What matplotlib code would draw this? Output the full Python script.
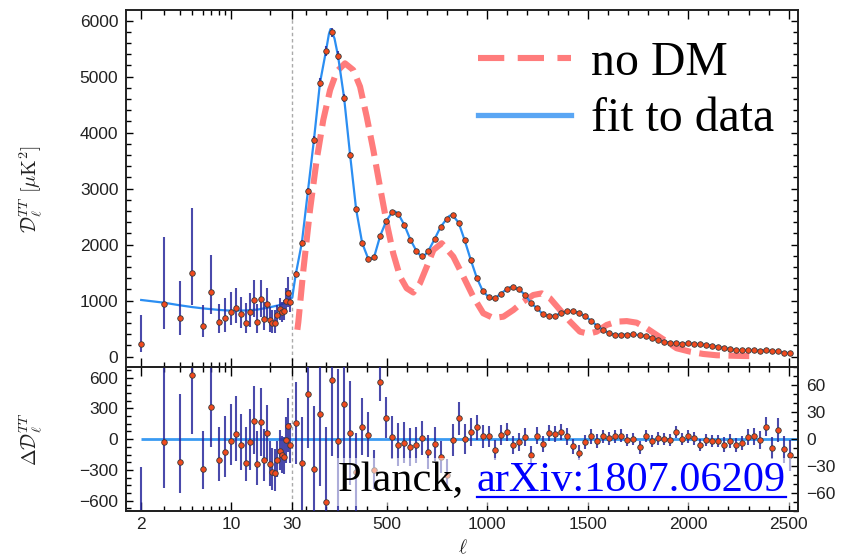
import numpy as np
import matplotlib
matplotlib.use("Agg")
import matplotlib.pyplot as plt
from matplotlib.ticker import FixedLocator, MultipleLocator, NullFormatter
from matplotlib.lines import Line2D
from matplotlib.patches import Rectangle

plt.rcParams['mathtext.fontset'] = 'cm'
plt.rcParams['font.family'] = ['Liberation Sans', 'DejaVu Sans']

# ------------------------------------------------------------------ data
ell_low = [2, 3, 4, 5, 6, 7, 8, 9, 10, 11, 12, 13, 14, 15, 16, 17, 18, 19,
           20, 21, 22, 23, 24, 25, 26, 27, 28, 29]
D_low = [227, 935, 691, 1500, 554, 1150, 614, 696, 798, 864, 762, 596, 804,
         1018, 620, 1030, 673, 946, 661, 596, 596, 739, 846, 798, 821, 1000,
         1143, 977]
D_low_err_lo = [138, 446, 304, 577, 197, 393, 196, 250, 232, 268, 244, 167,
                268, 315, 202, 327, 196, 267, 215, 178, 178, 173, 191, 173,
                166, 225, 250, 173]
D_low_err_hi = [518, 1208, 661, 1150, 369, 666, 321, 347, 363, 368, 309, 357,
                328, 346, 315, 334, 309, 275, 232, 238, 238, 184, 197, 184,
                191, 221, 275, 214]
res_low = [-785, -27, -223, 624, -291, 318, -207, -122, -18, 51, -61, -236,
           -31, 174, -240, 164, -207, 57, -246, -321, -330, -200, -112, -158,
           -171, -8, 125, -61]

ell_bin = [47.5, 77.5, 107.5, 137.5, 167.5, 197.5, 227.5, 257.5, 287.5, 317.5,
           347.5, 377.5, 407.5, 437.5, 467.5, 497.5, 527.5, 557.5, 587.5,
           617.5, 647.5, 677.5, 707.5, 737.5, 767.5, 797.5, 827.5, 857.5,
           887.5, 917.5, 947.5, 977.5, 1007.5, 1037.5, 1067.5, 1097.5, 1127.5,
           1157.5, 1187.5, 1217.5, 1247.5, 1277.5, 1307.5, 1337.5, 1367.5,
           1397.5, 1427.5, 1457.5, 1487.5, 1517.5, 1547.5, 1577.5, 1607.5,
           1637.5, 1667.5, 1697.5, 1727.5, 1757.5, 1787.5, 1817.5, 1847.5,
           1877.5, 1907.5, 1937.5, 1967.5, 1997.5, 2027.5, 2057.5, 2087.5,
           2117.5, 2147.5, 2177.5, 2207.5, 2237.5, 2267.5, 2297.5, 2327.5,
           2357.5, 2387.5, 2417.5, 2447.5, 2477.5, 2507.5]
D_bin = [1477, 2036, 2953, 3869, 4887, 5459, 5792, 5369, 4625, 3601, 2631,
         2030, 1750, 1786, 2161, 2423, 2583, 2548, 2351, 2089, 1887, 1804,
         1893, 2096, 2315, 2458, 2524, 2393, 2078, 1732, 1411, 1173, 1060,
         1042, 1125, 1208, 1238, 1202, 1107, 959, 863, 756, 726, 732, 780,
         810, 810, 780, 720, 640, 545, 476, 417, 393, 393, 393, 399, 381, 369,
         340, 304, 268, 250, 244, 232, 238, 232, 220, 214, 196, 179, 155, 137,
         119, 113, 113, 113, 107, 119, 95, 95, 71, 60]
err_bin = [46, 52, 60, 70, 80, 84, 85, 80, 72, 58, 44, 32, 25, 22, 21, 23, 24,
           24, 23, 21, 20, 19, 19, 19, 18, 18, 18, 18, 17, 16, 14, 13, 12, 11,
           11, 10, 10, 10, 10, 10, 9, 9, 9, 9, 9, 9, 8, 8, 8, 8, 8, 7, 7, 7, 7,
           7, 7, 7, 7, 7, 7, 7, 7, 7, 7, 7, 7, 7, 7, 7, 7, 8, 8, 8, 8, 9, 9, 10,
           11, 12, 13, 15, 17]
res_bin = [18, -27, 50, -33, 28, -70, 66, -2, 39, 7, -37, 14, 5, -34, 64, 24,
           2, -6, -4, -9, -6, 1, -14, -5, -20, -40, -1, 23, 0, 8, 13, 3, 3,
           -12, 5, 8, -7, -3, 2.5, -18, 4, -5, 7, 6, 8, 3, -8, -15, -3, 3, -2,
           3, 1, 3, 4, -1, 0, -9, 3.5, -2, 1, 0, -1, 8, 0, 3, 1, -6.5, -1, -2,
           -2, -6, -2, -6.5, -4, 2, 3, -1, 14, -10, 10, -11, -18]

# best-fit LCDM curve
ell_fit_low = [2, 3, 4, 5, 6, 8, 10, 13, 16, 20, 24, 27, 29, 30, 38]
D_fit_low = [1012, 964, 917, 885, 863, 835, 821, 825, 840, 881, 923, 975,
             1030, 1060, 1260]
ell_fit_extra = [212, 220, 240, 420, 542, 665, 690, 812, 1022, 1115]
D_fit_extra = [5760, 5850, 5680, 1738, 2592, 1815, 1815, 2515, 1038, 1242]

# "no DM" curve
ell_nodm = [55, 60, 85, 118, 151, 184, 218, 251, 292, 333, 367, 400, 433, 466,
            500, 532, 566, 599, 632, 665, 699, 732, 773, 831, 881, 930, 980,
            1030, 1080, 1130, 1179, 1229, 1271, 1312, 1362, 1412, 1461, 1503,
            1544, 1594, 1644, 1694, 1743, 1793, 1843, 1893, 1942, 2009, 2075,
            2141, 2208, 2274, 2316]
D_nodm = [480, 620, 1548, 2619, 3512, 4226, 4762, 5089, 5238, 5119, 4821,
          4286, 3690, 3036, 2381, 1845, 1429, 1221, 1145, 1310, 1607, 1905,
          2025, 1786, 1429, 1071, 775, 690, 714, 834, 982, 1101, 1130, 1042,
          834, 625, 446, 410, 446, 566, 625, 635, 607, 507, 387, 268, 150, 89,
          48, 25, 18, 12, 10]

xticks_major = [2, 10, 30, 500, 1000, 1500, 2000, 2500]
xticks_minor = [3, 4, 5, 6, 7, 8, 9, 20, 100, 200, 300, 400, 600, 700, 800,
                900, 1100, 1200, 1300, 1400, 1600, 1700, 1800, 1900, 2100,
                2200, 2300, 2400]
xlim = (1.523, 2546)

# ------------------------------------------------------------------ scale
L0, KLOG, KLIN = 30.0, 128.5, 0.201


def fwd(l):
    l = np.asarray(l, dtype=float)
    ls = np.maximum(l, 1e-6)
    return np.where(l < L0, KLOG * np.log10(ls / L0), KLIN * (l - L0))


def inv(u):
    u = np.asarray(u, dtype=float)
    return np.where(u < 0, L0 * 10 ** (np.minimum(u, 0) / KLOG), L0 + u / KLIN)


# ------------------------------------------------------------------ figure
W, H = 856, 559
fig = plt.figure(figsize=(W / 100, H / 100), dpi=100)


def rect(x0, y0, x1, y1):
    return [x0 / W, 1 - y1 / H, (x1 - x0) / W, (y1 - y0) / H]


ax = fig.add_axes(rect(126, 10, 798, 367.3))
axb = fig.add_axes(rect(126, 367.3, 798, 511))
axb.set_xscale('function', functions=(fwd, inv))
axr = axb.twinx()
ax.set_xscale('function', functions=(fwd, inv))

c_fit = '#2b8ef2'
c_nodm = '#ff7c7c'
c_err = '#2a2a9c'
c_pt = '#f24a1d'
c_txt = '#222222'

for a in (ax, axb):
    a.set_xlim(*xlim)
    a.xaxis.set_major_locator(FixedLocator(xticks_major))
    a.xaxis.set_minor_locator(FixedLocator(xticks_minor))
    a.xaxis.set_major_formatter(matplotlib.ticker.FixedFormatter(
        [str(t) for t in xticks_major]))
    a.xaxis.set_minor_formatter(NullFormatter())
    a.axvline(L0, color='#aaaaaa', lw=1.0, ls=(0, (2.5, 2)), zorder=1)
    for s in a.spines.values():
        s.set_linewidth(1.4)
        s.set_color(c_txt)

# ---- top panel
ax.plot(ell_nodm, D_nodm, color=c_nodm, lw=4.4, dashes=(3.4, 1.4),
        solid_capstyle='butt', zorder=2)
fit_pairs = sorted(zip(ell_fit_low + ell_fit_extra + ell_bin,
                       D_fit_low + D_fit_extra + D_bin))
ax.plot([p[0] for p in fit_pairs], [p[1] for p in fit_pairs], color=c_fit,
        lw=1.6, zorder=3)
ax.errorbar(ell_low, D_low, yerr=[D_low_err_lo, D_low_err_hi], fmt='none',
            ecolor=c_err, elinewidth=1.5, alpha=0.85, zorder=4)
ax.errorbar(ell_bin, D_bin, yerr=err_bin, fmt='none', ecolor=c_err,
            elinewidth=1.5, alpha=0.85, zorder=4)
ax.plot(ell_low + ell_bin, D_low + D_bin, 'o', ms=4.0, mfc=c_pt, mec='#3a3a3a',
        mew=0.6, zorder=5)
ax.set_ylim(-190, 6190)
ax.yaxis.set_major_locator(MultipleLocator(1000))
ax.yaxis.set_minor_locator(MultipleLocator(200))
ax.tick_params(axis='x', which='both', direction='in', top=True, bottom=True,
               labelbottom=False)
ax.tick_params(axis='y', which='both', direction='in', left=True, right=True)
ax.tick_params(axis='x', which='major', length=6.5, width=1.0)
ax.tick_params(axis='x', which='minor', length=3.6, width=1.0)
ax.tick_params(axis='y', which='major', length=5, width=1.0, pad=5.5,
               labelsize=12.5, labelcolor=c_txt)
ax.tick_params(axis='y', which='minor', length=3.3, width=1.0)
ax.set_ylabel(r'$\mathcal{D}_\ell^{TT}\ [\mu\mathrm{K}^2]$', fontsize=14.5,
              color=c_txt)
ax.yaxis.set_label_coords((45 - 126) / 672, 0.5)

h1 = Line2D([], [], color=c_nodm, lw=4.4, dashes=(4.3, 2.2))
h2 = Line2D([], [], color='#5aa6f4', lw=3.8)
ax.legend([h1, h2], ['no DM', 'fit to data'], loc='upper left',
          bbox_to_anchor=(478 / W, 1 - 41 / H), bbox_transform=fig.transFigure,
          frameon=False, borderpad=0, borderaxespad=0, handlelength=1.95,
          handletextpad=0.42, labelspacing=0.26,
          prop={'family': 'Liberation Serif', 'size': 34.4})

# ---- bottom panel
axb.hlines(0, ell_low[0], xlim[1], color='#3a9af2', lw=2.0, zorder=2)
axb.errorbar(ell_low, res_low, yerr=[D_low_err_lo, D_low_err_hi], fmt='none',
             ecolor=c_err, elinewidth=1.5, alpha=0.85, zorder=4)
axb.plot(ell_low, res_low, 'o', ms=4.0, mfc=c_pt, mec='#3a3a3a', mew=0.6,
         zorder=5)
axr.errorbar(ell_bin, res_bin, yerr=err_bin, fmt='none', ecolor=c_err,
             elinewidth=1.5, alpha=0.85, zorder=4)
axr.plot(ell_bin, res_bin, 'o', ms=4.0, mfc=c_pt, mec='#3a3a3a', mew=0.6,
         zorder=5)
axb.set_ylim(-700, 700)
axr.set_ylim(-80, 80)
axb.yaxis.set_major_locator(FixedLocator([-600, -300, 0, 300, 600]))
axb.yaxis.set_minor_locator(MultipleLocator(75))
axr.yaxis.set_major_locator(FixedLocator([-60, -30, 0, 30, 60]))
axr.yaxis.set_minor_locator(MultipleLocator(10))
axb.tick_params(axis='x', which='both', direction='in', top=True, bottom=True)
axb.tick_params(axis='x', which='major', length=6.5, width=1.0, pad=4,
                labelsize=12.5, labelcolor=c_txt)
axb.tick_params(axis='x', which='minor', length=3.6, width=1.0)
axb.tick_params(axis='y', which='both', direction='in', left=True, right=False)
axb.tick_params(axis='y', which='major', length=5, width=1.0, pad=5.5,
                labelsize=12.5, labelcolor=c_txt)
axb.tick_params(axis='y', which='minor', length=3.3, width=1.0)
axr.tick_params(axis='y', which='both', direction='in', right=True)
axr.tick_params(axis='y', which='major', length=5, width=1.0, pad=6,
                labelsize=12.5, labelcolor=c_txt)
axr.tick_params(axis='y', which='minor', length=3.3, width=1.0)
for s in axr.spines.values():
    s.set_linewidth(1.4)
    s.set_color(c_txt)
axb.set_ylabel(r'$\Delta\mathcal{D}_\ell^{TT}$', fontsize=14.5, color=c_txt)
axb.yaxis.set_label_coords((45 - 126) / 672, 0.5)

fig.text(463 / W, 1 - 548 / H, r'$\ell$', fontsize=14, ha='center',
         va='center', color=c_txt)

# ---- citation text
t1 = fig.text(338 / W, 1 - 491 / H, 'Planck,', family='Liberation Serif',
              fontsize=30.5, color='black', ha='left', va='baseline', zorder=4)
t2 = fig.text(476.5 / W, 1 - 491 / H, 'arXiv:1807.06209',
              family='Liberation Serif', fontsize=30.5, color='#0000ff',
              ha='left', va='baseline', zorder=4)
fig.canvas.draw()
r = fig.canvas.get_renderer()
b2 = t2.get_window_extent(r)
fig.lines.append(Line2D([b2.x0 / W, b2.x1 / W], [1 - 496.5 / H, 1 - 496.5 / H],
                        transform=fig.transFigure, color='#0000ff', lw=1.6,
                        zorder=4))
fig.patches.append(Rectangle((334 / W, 1 - 506 / H), (791 - 334) / W,
                             (506 - 458) / H, transform=fig.transFigure,
                             facecolor='white', edgecolor='none', alpha=0.55,
                             zorder=3))

fig.savefig('out.png', dpi=100)
